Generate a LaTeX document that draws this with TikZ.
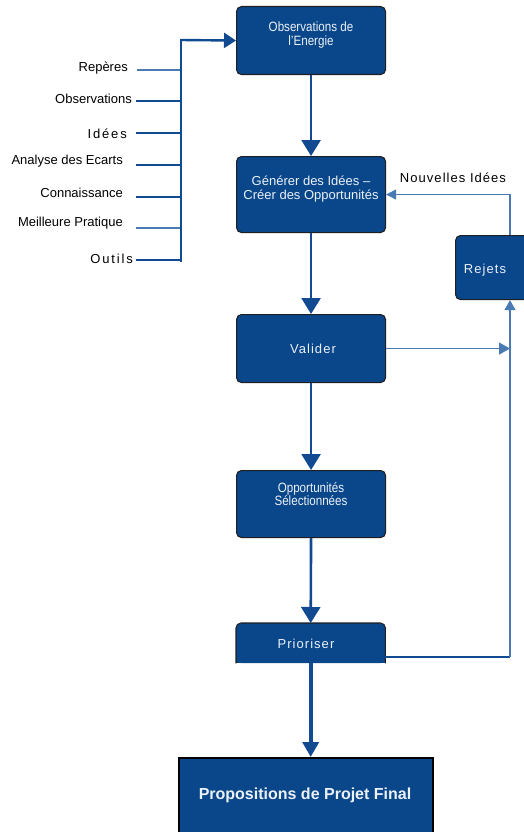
\documentclass[tikz,border=0pt]{standalone}
\usepackage{fontspec}
\setmainfont{Liberation Sans}
\newfontfamily\narrowfont[FakeStretch=0.86]{Liberation Sans}
\newfontfamily\spacedfont[LetterSpace=8]{Liberation Sans}
\newfontfamily\widefont[LetterSpace=14]{Liberation Sans}
\usetikzlibrary{arrows.meta}
\definecolor{boxblue}{RGB}{9,71,138}
\definecolor{linkblue}{RGB}{18,74,145}
\definecolor{thinblue}{RGB}{74,122,180}
\definecolor{boxtext}{RGB}{236,241,248}
\definecolor{edgeblack}{RGB}{30,30,35}

\begin{document}
\begin{tikzpicture}[x=1pt,y=-1pt,
  stage/.style={draw=edgeblack, line width=1.1pt, fill=boxblue,
    rounded corners=5pt, inner sep=0pt, anchor=north west},
  stagetext/.style={text=boxtext, font=\fontsize{13}{14.5}\selectfont,
    align=center, inner sep=0pt},
  inlabel/.style={anchor=east, inner sep=0pt, font=\fontsize{13}{15}\selectfont},
  feed/.style={draw=linkblue, line width=2.4pt},
  feedthin/.style={draw=thinblue, line width=1.4pt},
  flow/.style={draw=linkblue, line width=2.6pt,
    -{Triangle[length=16pt,width=19pt]}},
  loop/.style={draw=thinblue, line width=1.4pt},
]
\useasboundingbox (0,0) rectangle (524,832);
\clip (0,0) rectangle (524,832);

% process boxes
\node[stage, minimum width=149pt, minimum height=68pt] (obs) at (236,6) {};
\node[stage, minimum width=149pt, minimum height=76pt] (gen) at (236,156) {};
\node[stage, minimum width=90pt, minimum height=64pt] (rej) at (455,235) {};
\node[stage, minimum width=149pt, minimum height=68pt] (val) at (236,314) {};
\node[stage, minimum width=149pt, minimum height=67pt] (opp) at (236,470) {};

% Prioriser: open at the bottom edge
\node[fill=boxblue, rounded corners=5pt, inner sep=0pt, anchor=north west,
      minimum width=149pt, minimum height=40pt] (prio) at (236,623) {};
\fill[boxblue] (prio.west) rectangle (prio.south east);
\draw[edgeblack, line width=1.1pt, rounded corners=5pt]
  (prio.south west) -- (prio.north west) -- (prio.north east) -- (prio.south east);

% final box
\node[draw=black, line width=2.2pt, fill=boxblue, inner sep=0pt, anchor=north west,
      minimum width=254pt, minimum height=110pt] (prop) at (178,757) {};

% box texts
\node[stagetext, font=\narrowfont\fontsize{13.5}{14.6}\selectfont] (obst) at (311,35)
  {Observations de\\l’Energie};
\node[stagetext] (gent) at (311,189) {Générer des Idées –\\Créer des Opportunités};
\node[stagetext, font=\spacedfont\fontsize{13}{14}\selectfont] (rejt) at (485,270) {Rejets};
\node[stagetext, font=\spacedfont\fontsize{13}{14}\selectfont] (valt) at (313,349) {Valider};
\node[stagetext, font=\narrowfont\fontsize{13.5}{12}\selectfont] (oppt) at (311,494)
  {Opportunités\\Sélectionnées};
\node[stagetext, font=\spacedfont\fontsize{13}{14}\selectfont] (priot) at (306,644) {Prioriser};
\node[stagetext, font=\bfseries\fontsize{16}{18}\selectfont] (propt) at (305,795)
  {Propositions de Projet Final};

% input labels
\node[inlabel] (l1) at (128,68) {Repères};
\node[inlabel] (l2) at (132,99) {Observations};
\node[inlabel, font=\widefont\fontsize{13}{15}\selectfont] (l3) at (127,134) {Idées};
\node[inlabel] (l4) at (123,161) {Analyse des Ecarts};
\node[inlabel] (l5) at (123,193) {Connaissance};
\node[inlabel] (l6) at (123,223) {Meilleure Pratique};
\node[inlabel, font=\widefont\fontsize{13}{15}\selectfont] (l7) at (133,259) {Outils};

% input feeder lines and collecting bus
\coordinate (bustop) at (181,40);
\coordinate (busbot) at (181,261);
\coordinate (in1) at (137,70);
\coordinate (in2) at (136,101);
\coordinate (in3) at (136,133);
\coordinate (in4) at (136,165);
\coordinate (in5) at (136,197);
\coordinate (in6) at (136,228);
\coordinate (in7) at (136,260);
\draw[feedthin] (in1) -- (in1 -| bustop);
\draw[feed] (in2) -- (in2 -| bustop);
\draw[feed] (in3) -- (in3 -| bustop);
\draw[feed] (in4) -- (in4 -| bustop);
\draw[feed] (in5) -- (in5 -| bustop);
\draw[feedthin] (in6) -- (in6 -| bustop);
\draw[feed, line width=1.8pt] (in7) -- (in7 -| bustop);
\draw[feed, line cap=rect] (busbot) -- (bustop);
\draw[draw=linkblue, line width=2.4pt, -{Triangle[length=12pt,width=15pt]}]
  (bustop) -- (obs.west);

% main flow
\draw[flow] (obs.south) -- (gen.north);
\draw[flow] (gen.south) -- (val.north);
\draw[flow] (val.south) -- (opp.north);
\draw[flow] (opp.south) -- (prio.north);
\draw[draw=linkblue, line width=3.6pt, -{Triangle[length=15pt,width=16pt]}]
  (prio.south) -- (prio.south |- prop.north);

% rejection loop
\coordinate (loopx) at (510,349);
\draw[loop, -{Triangle[length=11pt,width=12pt]}] (val.east) -- (val.east -| loopx);
\draw[loop, line width=1.8pt, draw=linkblue] ([yshift=-14pt]prio.east) -- ([yshift=-14pt]prio.east -| loopx);
\draw[loop, -{Triangle[length=10pt,width=11pt]}]
  ([yshift=-14pt]prio.east -| loopx) -- (rej.south -| loopx);
\draw[loop, -{Triangle[length=10pt,width=10pt]}]
  (rej.north -| loopx) |- (gen.east);
\node[font=\spacedfont\fontsize{13}{15}\selectfont, inner sep=0pt] (newidea) at (453,178)
  {Nouvelles Idées};
\end{tikzpicture}
\end{document}
